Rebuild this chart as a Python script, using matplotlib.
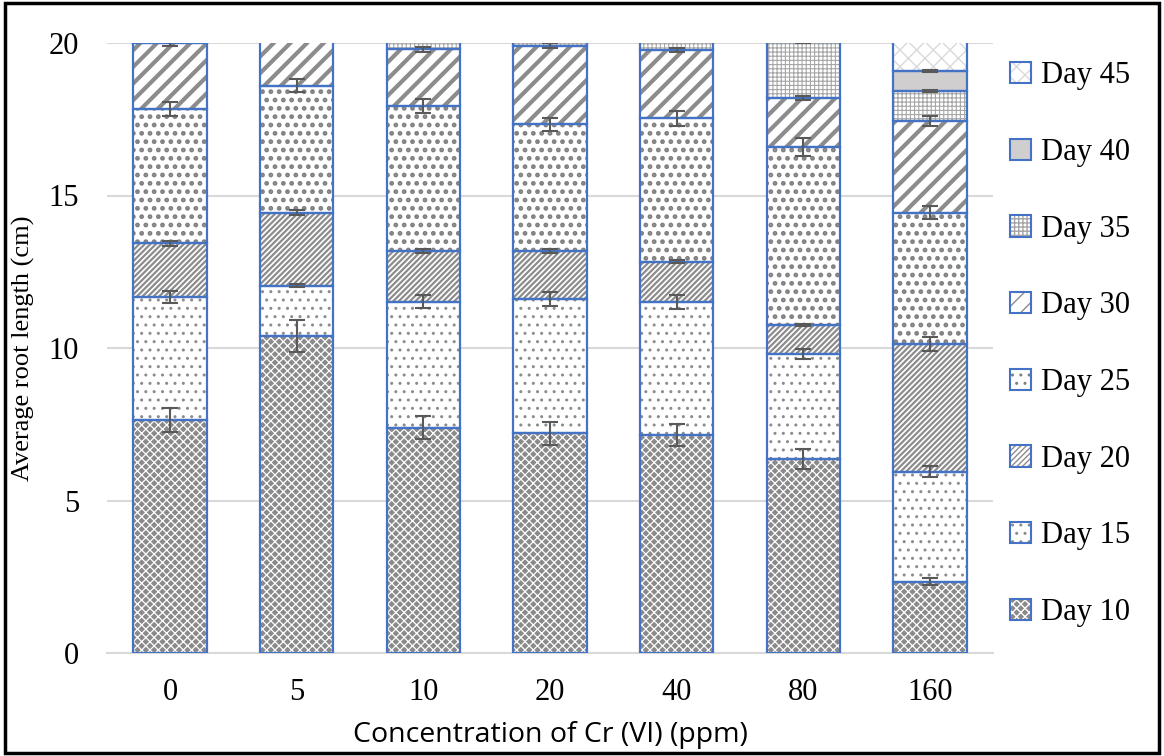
import matplotlib
matplotlib.use('Agg')
import matplotlib.pyplot as plt
from matplotlib.patches import Patch, Rectangle
from matplotlib.legend_handler import HandlerTuple
import numpy as np

categories = ['0', '5', '10', '20', '40', '80', '160']
series_names = ['Day 10', 'Day 15', 'Day 20', 'Day 25', 'Day 30', 'Day 35', 'Day 40', 'Day 45']

day10 = [7.64, 10.39, 7.39, 7.20, 7.14, 6.36, 2.34]
day15 = [4.03, 1.65, 4.13, 4.40, 4.38, 3.44, 3.61]
day20 = [1.77, 2.39, 1.67, 1.58, 1.31, 0.95, 4.18]
day25 = [4.40, 4.17, 4.74, 4.16, 4.70, 5.83, 4.31]
day30 = [2.16, 1.70, 1.86, 2.57, 2.24, 1.61, 3.01]
day35 = [0.60, 0.50, 0.45, 0.40, 0.50, 1.85, 0.98]
day40 = [0.30, 0.30, 0.30, 0.30, 0.30, 0.30, 0.66]
day45 = [0.30, 0.30, 0.30, 0.30, 0.30, 0.30, 1.00]

err10 = [0.38, 0.52, 0.38, 0.37, 0.36, 0.32, 0.11]
err15 = [0.20, 0.05, 0.21, 0.22, 0.23, 0.17, 0.19]
err20 = [0.08, 0.08, 0.06, 0.05, 0.05, 0.04, 0.22]
err25 = [0.22, 0.21, 0.24, 0.21, 0.24, 0.29, 0.20]
err30 = [0.10, 0.10, 0.07, 0.08, 0.07, 0.06, 0.16]
err35 = [0.05, 0.05, 0.05, 0.05, 0.05, 0.05, 0.03]
err40 = [0.03, 0.03, 0.03, 0.03, 0.03, 0.03, 0.03]
err45 = [0.03, 0.03, 0.03, 0.03, 0.03, 0.03, 0.03]

values = [day10, day15, day20, day25, day30, day35, day40, day45]
errors = [err10, err15, err20, err25, err30, err35, err40, err45]

# style per series: (facecolor, hatch, hatchcolor, hatch linewidth)
styles = [
    ('#8a8a8a', 'xxxx', 'white', 0.9),
    ('white', '..', '#8c8c8c', 1.0),
    ('white', '//////', '#8c8c8c', 1.6),
    ('white', '..', '#808080', 2.2),
    ('white', '//', '#8c8c8c', 3.0),
    ('white', '++++', '#a6a6a6', 0.8),
    ('#d0cece', '', '#d0cece', 1.0),
    ('white', 'xx', '#d9d9d9', 1.0),
]

edge_blue = '#4472c4'

plt.rcParams['font.family'] = ['Liberation Serif', 'DejaVu Serif']

fig = plt.figure(figsize=(11.64, 7.56), dpi=100)
ax = fig.add_axes([106.7 / 1164, 103 / 756, (993.3 - 106.7) / 1164, 610 / 756])

x = np.arange(len(categories))
width = 0.58
bottom = np.zeros(len(categories))
for vals, errs, name, (fc, hatch, hc, hlw) in zip(values, errors, series_names, styles):
    vals = np.array(vals)
    with plt.rc_context({'hatch.linewidth': hlw}):
        ax.bar(x, vals, width, bottom=bottom, color=fc, edgecolor=hc, hatch=hatch,
               linewidth=0, zorder=2)
    ax.bar(x, vals, width, bottom=bottom, fill=False, edgecolor=edge_blue,
           linewidth=1.6, zorder=3)
    top = bottom + vals
    ax.errorbar(x, top, yerr=errs, fmt='none', ecolor='#595959', elinewidth=1.5,
                capsize=6, capthick=1.5, zorder=4)
    bottom = top

ax.set_ylim(0, 20)
ax.set_xlim(-0.5, len(categories) - 0.5)
ax.set_yticks([0, 5, 10, 15, 20])
ax.set_xticks(x)
ax.set_xticklabels(categories)
ax.tick_params(axis='both', length=0, labelsize=22, colors='black')
ax.tick_params(axis='y', pad=20)
ax.tick_params(axis='x', pad=18)
ax.yaxis.grid(True, color='#d9d9d9', linewidth=1.5, zorder=0)
ax.set_axisbelow(True)
for s in ['top', 'right', 'left']:
    ax.spines[s].set_visible(False)
ax.spines['bottom'].set_color('#d9d9d9')
ax.spines['bottom'].set_linewidth(1.5)

ax.set_xlabel('Concentration of Cr (VI) (ppm)', fontsize=20.5,
              family=['Open Sans', 'DejaVu Sans'], labelpad=10)
ax.set_ylabel('Average root length (cm)', fontsize=19, labelpad=10)

handles = []
for name, (fc, hatch, hc, hlw) in zip(series_names, styles):
    with plt.rc_context({'hatch.linewidth': min(hlw, 1.5)}):
        p1 = Patch(facecolor=fc, edgecolor=hc, hatch=hatch, linewidth=0)
    p2 = Patch(fill=False, edgecolor=edge_blue, linewidth=1.5)
    handles.append((p1, p2))
leg = ax.legend(handles[::-1], series_names[::-1], loc='upper left',
                bbox_to_anchor=(1.005, 0.99), frameon=False, fontsize=22,
                handlelength=0.7, handleheight=0.7, handletextpad=0.3,
                labelspacing=1.56, borderaxespad=0,
                handler_map={tuple: HandlerTuple(ndivide=1, pad=0)})

fig.patches.append(Rectangle((0.004, 0.004), 0.992, 0.992, transform=fig.transFigure,
                             fill=False, edgecolor='black', linewidth=2.5))

fig.savefig('out.png', dpi=100)
